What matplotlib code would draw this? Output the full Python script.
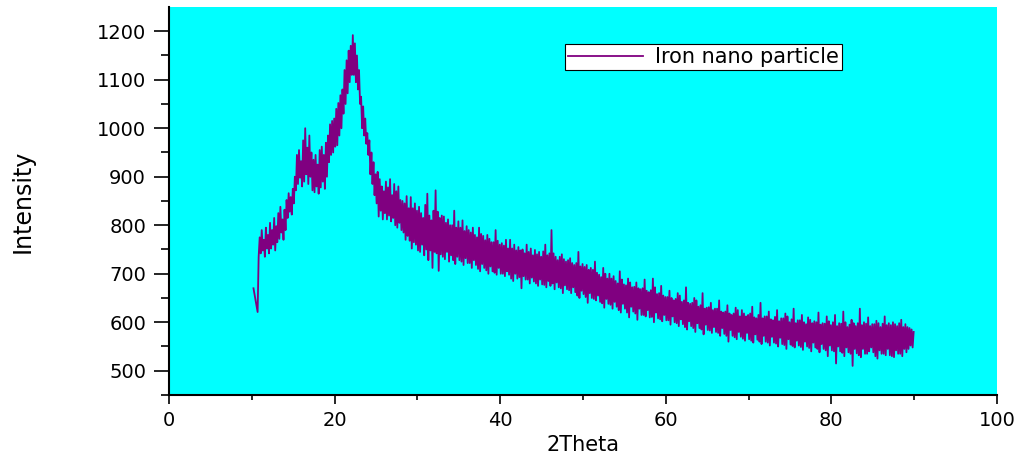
import numpy as np
import matplotlib.pyplot as plt

# scan grid of the diffractogram (degrees 2theta)
theta_start = 10.2
theta_step = 0.125

# intensity, one row per degree (8 samples each)
intensity = [
    670, 658, 646, 633, 621, 735, 775, 742,
    790, 748, 770, 735, 795, 752, 780, 742,
    805, 752, 790, 760, 815, 748, 798, 765,
    825, 772, 838, 785, 812, 770, 832, 790,
    852, 815, 866, 828, 858, 822, 875, 845,
    900, 872, 945, 885, 955, 898, 932, 880,
    975, 890, 1000, 905, 960, 885, 985, 900,
    950, 872, 935, 868, 945, 880, 925, 865,
    955, 878, 962, 890, 945, 875, 970, 900,
    985, 930, 1008, 945, 1015, 950, 1020, 962,
    1040, 965, 1052, 985, 1068, 1000, 1080, 1030,
    1120, 1050, 1140, 1072, 1160, 1095, 1170, 1110,
    1192, 1110, 1175, 1095, 1150, 1080, 1120, 1050,
    1065, 1000, 1045, 985, 1020, 968, 990, 945,
    975, 905, 950, 885, 930, 862, 905, 845,
    910, 818, 895, 830, 880, 812, 870, 825,
    890, 812, 878, 820, 895, 808, 862, 815,
    885, 800, 870, 795, 880, 805, 852, 790,
    850, 785, 845, 770, 860, 778, 835, 768,
    858, 752, 835, 765, 845, 760, 830, 748,
    838, 745, 825, 760, 815, 738, 842, 750,
    865, 728, 820, 748, 810, 712, 830, 745,
    872, 742, 828, 706, 815, 740, 820, 735,
    818, 730, 805, 745, 812, 725, 800, 738,
    800, 728, 830, 720, 795, 735, 808, 728,
    795, 725, 810, 718, 788, 732, 798, 722,
    790, 722, 785, 712, 795, 728, 780, 718,
    775, 710, 795, 705, 782, 720, 778, 712,
    769, 707, 780, 700, 772, 715, 765, 705,
    765, 702, 790, 698, 768, 712, 760, 700,
    763, 700, 758, 695, 770, 705, 752, 698,
    770, 690, 752, 685, 760, 700, 748, 690,
    755, 693, 748, 670, 750, 695, 742, 688,
    760, 688, 745, 680, 752, 692, 738, 684,
    749, 680, 740, 675, 745, 688, 735, 678,
    746, 677, 760, 672, 738, 685, 742, 675,
    790, 680, 742, 668, 735, 682, 728, 672,
    735, 670, 740, 660, 730, 676, 725, 668,
    728, 666, 732, 660, 722, 672, 718, 662,
    722, 655, 745, 650, 715, 665, 720, 658,
    714, 652, 718, 640, 708, 660, 712, 650,
    708, 648, 725, 645, 702, 655, 698, 642,
    693, 639, 712, 630, 700, 648, 690, 638,
    700, 636, 690, 628, 695, 642, 685, 632,
    680, 625, 705, 620, 688, 638, 678, 628,
    676, 620, 690, 610, 682, 632, 672, 622,
    673, 618, 682, 605, 670, 628, 668, 615,
    670, 615, 688, 612, 665, 625, 662, 610,
    666, 611, 690, 600, 672, 620, 658, 608,
    660, 606, 675, 602, 655, 615, 652, 604,
    652, 604, 665, 595, 650, 612, 645, 600,
    648, 598, 660, 592, 655, 606, 642, 596,
    645, 590, 672, 585, 640, 602, 638, 592,
    640, 588, 650, 580, 645, 598, 632, 588,
    635, 585, 660, 575, 628, 595, 630, 584,
    631, 583, 640, 578, 625, 590, 628, 580,
    628, 578, 645, 572, 622, 588, 620, 576,
    622, 572, 635, 560, 618, 584, 615, 572,
    618, 569, 630, 565, 625, 580, 612, 570,
    625, 566, 618, 562, 612, 578, 615, 565,
    618, 562, 632, 558, 610, 575, 608, 564,
    615, 560, 640, 555, 608, 572, 612, 560,
    612, 558, 622, 552, 606, 570, 604, 558,
    611, 556, 625, 550, 602, 568, 608, 555,
    608, 553, 618, 545, 612, 565, 600, 554,
    606, 551, 628, 548, 598, 562, 604, 552,
    604, 549, 615, 543, 600, 560, 596, 550,
    610, 547, 605, 540, 598, 558, 602, 548,
    600, 545, 620, 538, 595, 555, 598, 545,
    597, 542, 612, 530, 602, 552, 594, 542,
    600, 540, 615, 515, 592, 550, 598, 540,
    597, 537, 622, 530, 600, 548, 590, 538,
    595, 535, 605, 510, 598, 545, 592, 536,
    598, 532, 628, 528, 594, 545, 600, 535,
    597, 535, 610, 540, 592, 548, 596, 538,
    596, 530, 603, 525, 598, 542, 590, 535,
    597, 535, 612, 532, 594, 545, 598, 532,
    594, 530, 600, 528, 596, 542, 592, 535,
    598, 535, 605, 530, 590, 545, 596, 538,
    590, 545, 588, 552, 585, 548, 580,
]
two_theta = theta_start + theta_step * np.arange(len(intensity))

x_ticks = [0, 20, 40, 60, 80, 100]
y_ticks = [500, 600, 700, 800, 900, 1000, 1100, 1200]

fig = plt.figure(figsize=(10.22, 4.57), dpi=100)
ax = fig.add_axes([0.1654, 0.1357, 0.81, 0.849])
ax.set_facecolor('#00FFFF')

ax.plot(two_theta, intensity, color='#800080', lw=1.3, label='Iron nano particle')

ax.set_xlim(0, 100)
ax.set_ylim(450, 1250)
ax.set_xticks(x_ticks)
ax.set_yticks(y_ticks)
ax.set_xticks(np.arange(10, 100, 20), minor=True)
ax.set_yticks(np.arange(450, 1250, 100), minor=True)

for side in ['top', 'right']:
    ax.spines[side].set_visible(False)
for side in ['left', 'bottom']:
    ax.spines[side].set_linewidth(1.5)

ax.tick_params(axis='y', which='major', direction='out', length=10.5, width=1.2, pad=6, labelsize=14)
ax.tick_params(axis='y', which='minor', direction='out', length=6, width=1.2)
ax.tick_params(axis='x', which='major', direction='out', length=6.5, width=1.2, pad=5, labelsize=14)
ax.tick_params(axis='x', which='minor', direction='out', length=3.6, width=1.2)

ax.set_xlabel('2Theta', fontsize=15)
ax.xaxis.set_label_coords(0.5, -0.103)
ax.set_ylabel('Intensity', fontsize=17, family=['Liberation Sans Narrow', 'DejaVu Sans'])
ax.yaxis.set_label_coords(-0.162, 0.5)

leg = ax.legend(loc='upper left', bbox_to_anchor=(0.478, 0.905), fontsize=15,
                handlelength=3.6, handletextpad=0.6, borderpad=0.15,
                borderaxespad=0, fancybox=False, framealpha=1)
leg.get_frame().set_edgecolor('black')
leg.get_frame().set_linewidth(0.8)

fig.savefig('out.png', dpi=100)
